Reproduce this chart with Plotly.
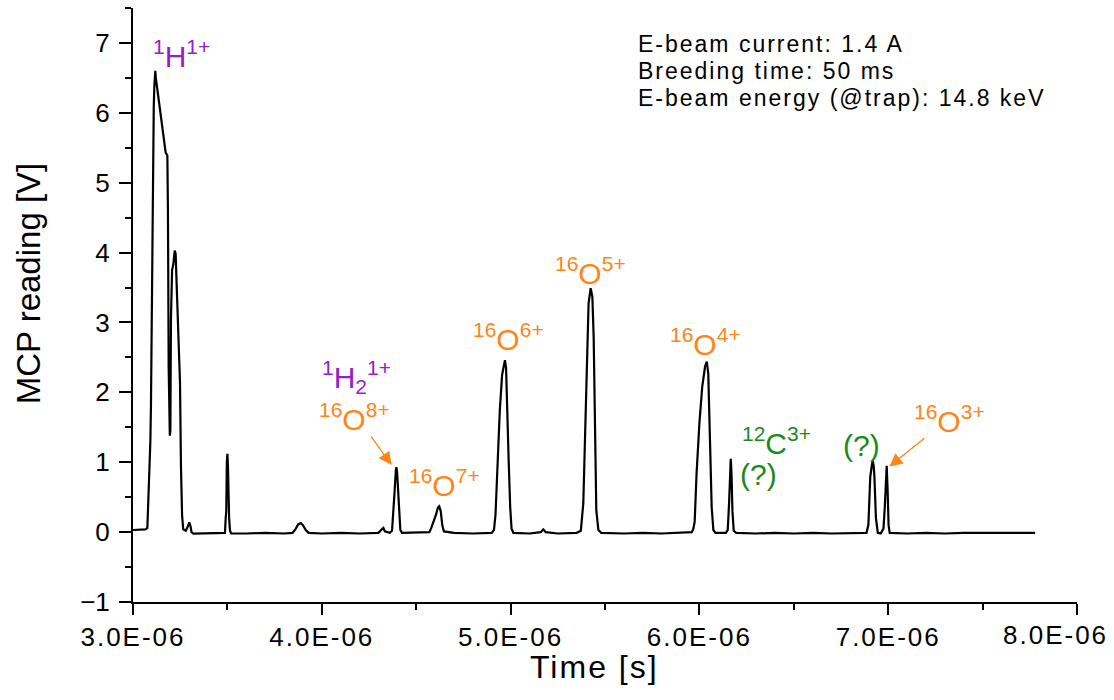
import plotly.graph_objects as go

# Time-of-flight trace: time in microseconds, MCP signal in volts
time_us = [
    3.000, 3.040, 3.066, 3.076, 3.081, 3.086, 3.092, 3.095, 3.098, 3.101,
    3.104, 3.106, 3.110, 3.113, 3.118, 3.121, 3.125, 3.134, 3.148, 3.161,
    3.173, 3.182, 3.185, 3.189, 3.192, 3.195, 3.198, 3.201, 3.207, 3.214,
    3.221, 3.226, 3.231, 3.240, 3.249, 3.254, 3.260, 3.266, 3.280, 3.290,
    3.298, 3.304, 3.310, 3.320, 3.350, 3.400, 3.450, 3.487, 3.491, 3.494,
    3.497, 3.500, 3.503, 3.505, 3.509, 3.514, 3.520, 3.600, 3.700, 3.800,
    3.845, 3.860, 3.875, 3.888, 3.900, 3.915, 3.930, 4.000, 4.100, 4.200,
    4.300, 4.318, 4.326, 4.334, 4.360, 4.372, 4.380, 4.386, 4.392, 4.395,
    4.399, 4.404, 4.410, 4.416, 4.425, 4.500, 4.570, 4.580, 4.595, 4.605,
    4.615, 4.622, 4.630, 4.638, 4.647, 4.700, 4.800, 4.900, 4.912, 4.920,
    4.930, 4.943, 4.955, 4.965, 4.970, 4.976, 4.982, 4.990, 4.998, 5.005,
    5.015, 5.100, 5.160, 5.173, 5.186, 5.250, 5.350, 5.372, 5.385, 5.395,
    5.405, 5.413, 5.424, 5.433, 5.440, 5.447, 5.454, 5.465, 5.480, 5.600,
    5.700, 5.800, 5.900, 5.960, 5.968, 5.975, 5.985, 6.000, 6.015, 6.030,
    6.039, 6.047, 6.056, 6.065, 6.074, 6.085, 6.140, 6.150, 6.157, 6.162,
    6.166, 6.170, 6.175, 6.182, 6.195, 6.300, 6.400, 6.500, 6.600, 6.700,
    6.800, 6.885, 6.895, 6.905, 6.913, 6.918, 6.923, 6.927, 6.935, 6.945,
    6.960, 6.975, 6.982, 6.988, 6.992, 6.997, 7.002, 7.008, 7.100, 7.200,
    7.300, 7.400, 7.500, 7.600, 7.700, 7.778,
]
mcp_v = [
    0.03, 0.03, 0.04, 0.06, 0.40, 0.94, 1.30, 1.79, 2.60, 3.54,
    4.70, 5.67, 6.10, 6.37, 6.60, 6.50, 6.42, 6.25, 6.00, 5.72,
    5.43, 5.39, 4.62, 2.35, 1.48, 1.38, 1.46, 3.05, 3.75, 3.84,
    4.03, 3.98, 3.56, 2.91, 2.14, 0.94, 0.24, 0.04, 0.02, 0.08,
    0.14, 0.09, 0.00, -0.02, -0.02, -0.01, -0.02, -0.01, 0.20, 0.30,
    1.00, 1.12, 0.95, 0.60, 0.20, 0.02, -0.02, -0.02, -0.01, -0.02,
    -0.01, 0.04, 0.11, 0.13, 0.10, 0.03, -0.01, -0.02, -0.01, -0.02,
    -0.01, 0.04, 0.06, 0.01, -0.01, 0.02, 0.30, 0.60, 0.88, 0.93,
    0.85, 0.55, 0.20, 0.03, -0.01, -0.01, 0.00, 0.06, 0.17, 0.25,
    0.35, 0.37, 0.30, 0.10, 0.01, -0.01, -0.02, -0.01, 0.03, 0.25,
    0.90, 1.75, 2.25, 2.42, 2.46, 2.35, 1.90, 1.00, 0.35, 0.05,
    -0.01, -0.02, 0.00, 0.04, 0.00, -0.02, -0.01, 0.02, 0.41, 1.60,
    2.79, 3.27, 3.49, 3.37, 2.79, 1.60, 0.31, 0.03, -0.01, -0.02,
    -0.01, -0.02, -0.01, 0.00, 0.05, 0.15, 0.84, 1.56, 2.08, 2.37,
    2.44, 2.27, 1.32, 0.36, 0.03, -0.01, -0.01, 0.03, 0.40, 0.95,
    1.05, 0.85, 0.30, 0.02, -0.01, -0.02, -0.01, -0.02, -0.01, -0.02,
    -0.01, -0.01, 0.10, 0.79, 0.95, 1.03, 0.95, 0.79, 0.20, -0.01,
    -0.02, 0.05, 0.36, 0.91, 0.95, 0.60, 0.10, -0.01, -0.02, -0.01,
    -0.02, -0.01, -0.01, -0.02, -0.01, -0.01,
]

# Axis ticks (time axis in seconds)
x_tick_vals = [3.0e-6, 4.0e-6, 5.0e-6, 6.0e-6, 7.0e-6, 8.0e-6]
x_tick_text = ["3.0E-06", "4.0E-06", "5.0E-06", "6.0E-06", "7.0E-06", "8.0E-06"]
x_minor_vals = [3.5e-6, 4.5e-6, 5.5e-6, 6.5e-6, 7.5e-6]
y_tick_vals = [-1, 0, 1, 2, 3, 4, 5, 6, 7]

# Peak labels: (text, time in µs, voltage, colour key)
peak_labels = [
    ("<sup>1</sup>H<sup>1+</sup>", 3.255, 6.84, "purple"),
    ("<sup>1</sup>H<sub>2</sub><sup>1+</sup>", 4.186, 2.22, "purple"),
    ("<sup>16</sup>O<sup>8+</sup>", 4.173, 1.65, "orange"),
    ("<sup>16</sup>O<sup>7+</sup>", 4.650, 0.70, "orange"),
    ("<sup>16</sup>O<sup>6+</sup>", 4.991, 2.79, "orange"),
    ("<sup>16</sup>O<sup>5+</sup>", 5.421, 3.73, "orange"),
    ("<sup>16</sup>O<sup>4+</sup>", 6.032, 2.72, "orange"),
    ("<sup>12</sup>C<sup>3+</sup>", 6.406, 1.30, "green"),
    ("(?)", 6.313, 0.82, "green"),
    ("(?)", 6.861, 1.245, "green"),
    ("<sup>16</sup>O<sup>3+</sup>", 7.325, 1.62, "orange"),
]

# Arrows: (tail time µs, tail V, head time µs, head V)
arrows = [
    (4.255, 1.39, 4.370, 0.96),
    (7.200, 1.36, 7.006, 0.94),
]

info_lines = [
    "E-beam current: 1.4 A",
    "Breeding time: 50 ms",
    "E-beam energy (@trap): 14.8 keV",
]
info_y = [6.99, 6.60, 6.21]

colors = {"purple": "#9A1BC9", "orange": "#FF8517", "green": "#1B8A1B"}
FONT = "Arial, Liberation Sans, sans-serif"


def spaced(s, px):
    return f'<span style="letter-spacing:{px}px">{s}</span>'


# the last tick label is drawn separately, nudged left to stay on the page
x_tick_labels = [spaced(t, 2) for t in x_tick_text[:-1]] + [""]

fig = go.Figure(
    go.Scatter(
        x=[t * 1e-6 for t in time_us],
        y=mcp_v,
        mode="lines",
        line=dict(color="black", width=2.2),
        hoverinfo="skip",
    )
)

annotations = []
for text, t, v, ck in peak_labels:
    annotations.append(dict(
        x=t * 1e-6, y=v, xref="x", yref="y", text=text, showarrow=False,
        xanchor="center", yanchor="middle",
        font=dict(family=FONT, size=30, color=colors[ck]),
    ))
for tx, ty, hx, hy in arrows:
    annotations.append(dict(
        x=hx * 1e-6, y=hy, ax=tx * 1e-6, ay=ty, xref="x", yref="y",
        axref="x", ayref="y", text="", showarrow=True, arrowhead=2,
        arrowsize=2.0, arrowwidth=1.3, arrowcolor=colors["orange"], standoff=0,
    ))
for line, yv in zip(info_lines, info_y):
    annotations.append(dict(
        x=5.664e-6, y=yv, xref="x", yref="y", text=spaced(line, 2),
        showarrow=False, xanchor="left", yanchor="middle",
        font=dict(family=FONT, size=23, color="black"),
    ))

annotations.append(dict(
    x=x_tick_vals[-1], y=0, xref="x", yref="paper", text=spaced(x_tick_text[-1], 2),
    showarrow=False, xanchor="center", yanchor="top", xshift=-22, yshift=-16,
    font=dict(family=FONT, size=26, color="black"),
))

# axis titles
annotations.append(dict(
    x=-0.111, y=0.537, xref="paper", yref="paper", text="MCP reading [V]",
    textangle=-90, showarrow=False, xanchor="center", yanchor="middle",
    font=dict(family=FONT, size=33, color="black"),
))
annotations.append(dict(
    x=0.489, y=-0.109, xref="paper", yref="paper", text=spaced("Time [s]", 2),
    showarrow=False, xanchor="center", yanchor="middle",
    font=dict(family=FONT, size=32, color="black"),
))

fig.update_layout(
    width=1114,
    height=700,
    margin=dict(l=133, r=37, t=8, b=98),
    paper_bgcolor="white",
    plot_bgcolor="white",
    showlegend=False,
    annotations=annotations,
    font=dict(family=FONT, color="black"),
)

fig.update_xaxes(
    range=[3.0e-6, 8.00001e-6],
    tickmode="array", tickvals=x_tick_vals, ticktext=x_tick_labels,
    ticks="outside", ticklen=11, tickwidth=2, tickcolor="black",
    minor=dict(tickmode="array", tickvals=x_minor_vals, ticks="outside",
               ticklen=6, tickwidth=2, tickcolor="black"),
    showline=True, linecolor="black", linewidth=2,
    showgrid=False, zeroline=False,
    tickfont=dict(family=FONT, size=26, color="black"),
    ticklabeloverflow="allow",
    automargin=False,
)
fig.update_yaxes(
    range=[-1, 7.5],
    tickmode="array", tickvals=y_tick_vals,
    ticks="outside", ticklen=12, tickwidth=2, tickcolor="black",
    minor=dict(dtick=0.5, ticks="outside", ticklen=6, tickwidth=2,
               tickcolor="black"),
    showline=True, linecolor="black", linewidth=2,
    showgrid=False, zeroline=False,
    tickfont=dict(family=FONT, size=26, color="black"),
    ticklabelstandoff=4,
    automargin=False,
)

fig.write_html("out.html")
